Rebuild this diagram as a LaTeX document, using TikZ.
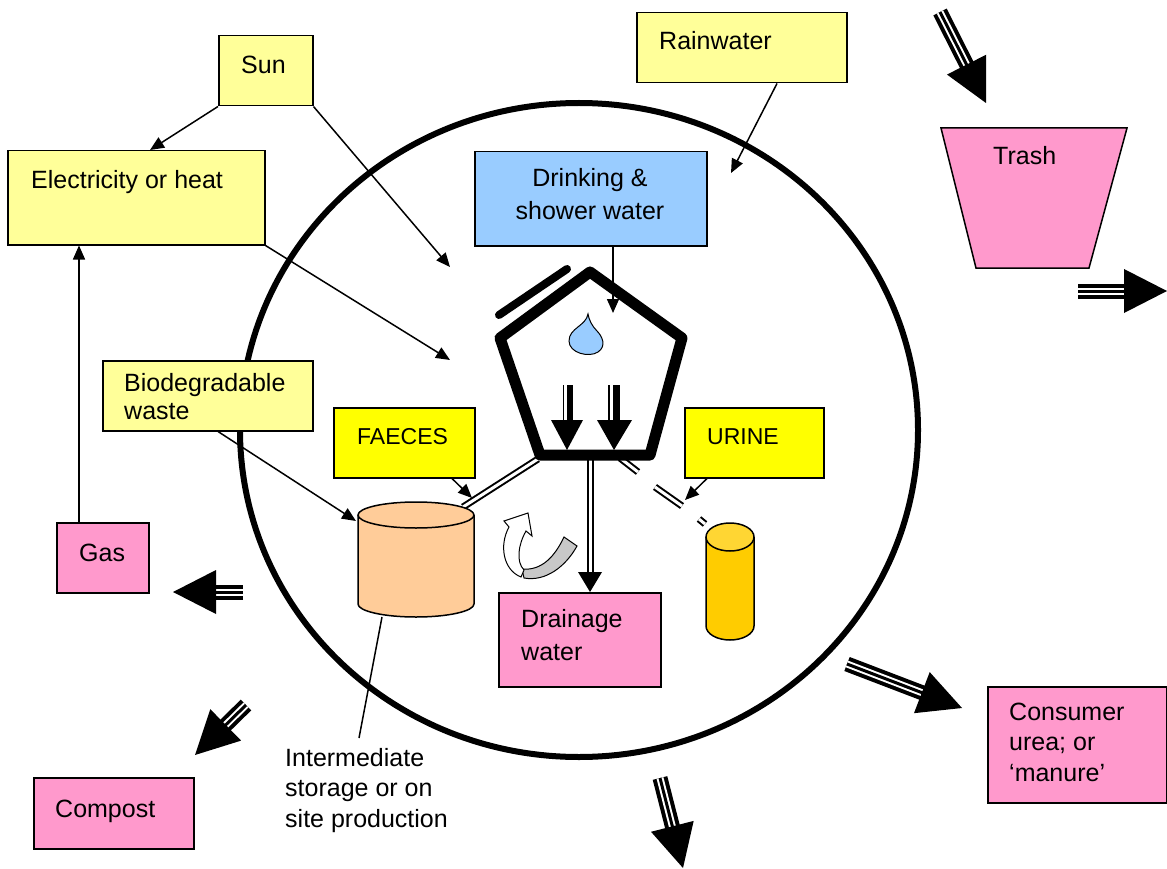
\documentclass[tikz,border=0pt]{standalone}
\usepackage{fontspec}
\setmainfont{Liberation Sans}
\usetikzlibrary{calc,arrows.meta}
\definecolor{lyel}{HTML}{FFFF99}
\definecolor{byel}{HTML}{FFFF00}
\definecolor{lblue}{HTML}{99CCFF}
\definecolor{pinkc}{HTML}{FF99CC}
\definecolor{orangec}{HTML}{FFCC99}
\definecolor{goldc}{HTML}{FFCC00}
\definecolor{goldtop}{HTML}{FFD633}
\definecolor{greyc}{HTML}{C8C8C8}
\tikzset{
  box/.style={draw=black, line width=1.5pt, anchor=north west, inner sep=0pt},
  txt/.style={anchor=base west, inner sep=0pt, font=\fontsize{25}{30}\selectfont, align=left},
  arr/.style={line width=1.5pt, -{Triangle[length=14pt,width=12pt]}},
  pipe/.style={line width=2pt, double=white, double distance=3pt},
}
\newcommand\TriArrow[2]{%
  \draw[line width=15pt] (#1) -- ($(#2)!40pt!(#1)$);
  \draw[white, line width=7pt] (#1) -- ($(#2)!40pt!(#1)$);
  \draw[line width=3pt] (#1) -- ($(#2)!40pt!(#1)$);
  \fill ($($(#2)!43pt!(#1)$)!22pt!90:(#2)$) -- (#2) -- ($($(#2)!43pt!(#1)$)!22pt!-90:(#2)$) -- cycle;
}
\begin{document}
\begin{tikzpicture}[x=1pt,y=-1pt]
\useasboundingbox[fill=white] (0,0) rectangle (1167,869);

% big circle
\draw[line width=6pt] (579,430) ellipse [x radius=339pt, y radius=327pt];

% pipes
\draw[pipe] (538,459) -- (463,507);
\draw[pipe] (590,459) -- (590,574);
\fill (578,572) -- (602,572) -- (590,592) -- cycle;
\draw[pipe] (620,458) -- (638,472);
\draw[pipe] (655,487) -- (682,506);
\draw[pipe] (699,519) -- (705,524);

% pentagon
\draw[line width=11pt, line join=round] (590,272) -- (682,338) -- (650,455) -- (540,455) -- (500,338) -- cycle;
\draw[line width=8pt, line cap=round] (499,315) -- (567,269);
% water drop
\filldraw[fill=lblue, line width=1pt] (588,314) .. controls (586,326) and (569,328) .. (569,341) .. controls (569,353) and (589,358) .. (598,352) .. controls (607,346) and (602,336) .. (597,331) .. controls (592,326) and (589,320) .. cycle;
% inner arrows
\fill (563,385) rectangle (573,421);
\draw[white, line width=2.5pt] (565.4,385) -- (565.4,421);
\fill (551,420) -- (583,420) -- (567,450) -- cycle;
\fill (608,385) rectangle (620,421);
\draw[white, line width=2.5pt] (611.3,385) -- (611.3,421);
\fill (597,420) -- (632,420) -- (614,450) -- cycle;

% faeces cylinder
\filldraw[fill=orangec, line width=1.5pt] (358,515) -- (358,604) arc[start angle=180, end angle=360, x radius=58pt, y radius=13pt] -- (474,515);
\filldraw[fill=orangec, line width=1.5pt] (416,515) ellipse [x radius=58pt, y radius=13pt];
% urine cylinder
\filldraw[fill=goldc, line width=1.5pt] (706,537) -- (706,626) arc[start angle=180, end angle=360, x radius=24pt, y radius=14pt] -- (754,537);
\filldraw[fill=goldtop, line width=1.5pt] (730,537) ellipse [x radius=24pt, y radius=14pt];

% curved arrow
\filldraw[fill=greyc, line width=1pt] (564,537) -- (577,546) .. controls (566,566) and (546,582) .. (524,578) -- (522,569) .. controls (542,571) and (555,556) .. cycle;
\filldraw[fill=white, line width=1pt] (521,577) .. controls (503,570) and (499,545) .. (509,527) -- (504,521) -- (528,513) -- (532,536) -- (526,531) .. controls (518,545) and (516,562) .. (524,570) -- cycle;

% trash
\filldraw[fill=pinkc, line width=1.5pt] (941,128) -- (1127,128) -- (1089,268) -- (976,268) -- cycle;

% boxes
\node[box, fill=lyel, minimum width=94, minimum height=70] (sun) at (218,35) {};
\node[box, fill=lyel, minimum width=257, minimum height=94] (elec) at (7,150) {};
\node[box, fill=lyel, minimum width=210, minimum height=70] (bio) at (102,360) {};
\node[box, fill=byel, minimum width=141, minimum height=70] (faeces) at (333,407) {};
\node[box, fill=byel, minimum width=139, minimum height=70] (urine) at (684,407) {};
\node[box, fill=lblue, minimum width=232, minimum height=94] (drink) at (474,151) {};
\node[box, fill=lyel, minimum width=210, minimum height=70] (rain) at (636,12) {};
\node[box, fill=pinkc, minimum width=92, minimum height=70] (gas) at (56,522) {};
\node[box, fill=pinkc, minimum width=160, minimum height=71] (compost) at (33,777) {};
\node[box, fill=pinkc, minimum width=162, minimum height=94] (drain) at (498,592) {};
\node[box, fill=pinkc, minimum width=179, minimum height=116] (consumer) at (987,686) {};

% texts (base = baseline of last line)
\node[txt] (sunT) at (241,74) {Sun};
\node[txt] (elecT) at (31,189) {Electricity or heat};
\node[txt, font=\fontsize{25}{28}\selectfont] (bioT) at (124,419) {Biodegradable\\waste};
\node[txt, font=\fontsize{23}{26}\selectfont] (faecesT) at (357,444) {FAECES};
\node[txt, font=\fontsize{23}{26}\selectfont] (urineT) at (707,444) {URINE};
\node[txt, anchor=base, align=center, font=\fontsize{25}{33}\selectfont] (drinkT) at (590,220) {Drinking \&\\shower water};
\node[txt] (rainT) at (659,50) {Rainwater};
\node[txt] (trashT) at (993,165) {Trash};
\node[txt] (gasT) at (79,561) {Gas};
\node[txt] (compostT) at (55,817) {Compost};
\node[txt, font=\fontsize{25}{33}\selectfont] (drainT) at (521,660) {Drainage\\water};
\node[txt, font=\fontsize{25}{30.5}\selectfont] (consT) at (1009,781) {Consumer\\urea; or\\‘manure’};
\node[txt, font=\fontsize{25}{30.5}\selectfont] (interT) at (285,827) {Intermediate\\storage or on\\site production};

% free ends
\coordinate (inA) at (450,267);
\coordinate (inB) at (450,360);
\coordinate (inC) at (731,173);
\coordinate (inD) at (613,313);
\coordinate (cylA) at (356,521);
\coordinate (cylF) at (472,498);
\coordinate (cylU) at (685,500);
\coordinate (cylB) at (382,617);
\coordinate (labI) at (359,738);

% connectors
\draw[arr] (sun.south west) -- ($(elec.north west)+(143,0)$);
\draw[arr] (sun.south east) -- (inA);
\draw[arr] (elec.south east) -- (inB);
\draw[arr] ($(gas.north west)+(23,0)$) -- ($(elec.south west)+(72,0)$);
\draw[arr] ($(bio.south west)+(116,0)$) -- (cylA);
\draw[arr] ($(rain.south west)+(141,0)$) -- (inC);
\draw[arr] ($(drink.south west)+(139,0)$) -- (inD);
\draw[arr] ($(faeces.south west)+(119,0)$) -- (cylF);
\draw[arr] ($(urine.south west)+(23,0)$) -- (cylU);
\draw[line width=1.5pt] (cylB) -- (labI);

% triple arrows
\coordinate (t1s) at (940,12);   \coordinate (t1e) at (986,103);
\coordinate (t2s) at (1078,291); \coordinate (t2e) at (1167,291);
\coordinate (t3s) at (243,592);  \coordinate (t3e) at (173,592);
\coordinate (t4s) at (246,705);  \coordinate (t4e) at (195,755);
\coordinate (t5s) at (847,664);  \coordinate (t5e) at (962,708);
\coordinate (t6s) at (660,778);  \coordinate (t6e) at (683,868);
\TriArrow{t1s}{t1e}
\TriArrow{t2s}{t2e}
\TriArrow{t3s}{t3e}
\TriArrow{t4s}{t4e}
\TriArrow{t5s}{t5e}
\TriArrow{t6s}{t6e}
\end{tikzpicture}
\end{document}
